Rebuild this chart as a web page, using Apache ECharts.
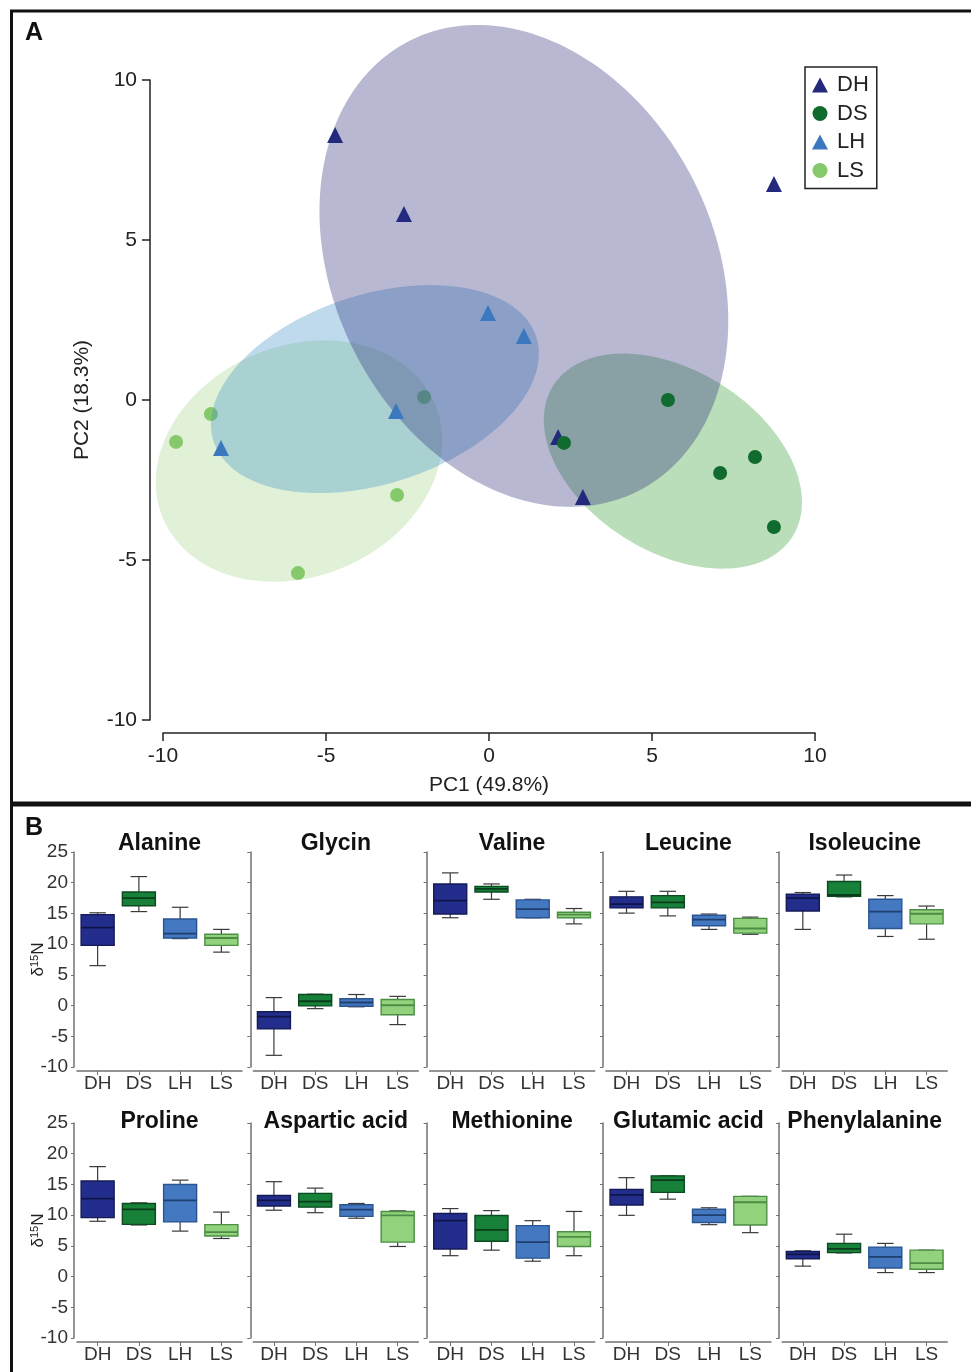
<!DOCTYPE html>
<html><head><meta charset="utf-8">
<script src="https://cdn.jsdelivr.net/npm/echarts@6/dist/echarts.min.js"></script>
<style>html,body{margin:0;padding:0;background:#fff}#c{width:971px;height:1372px}</style>
</head><body><div id="c"></div><script>
const FONT = "'Liberation Sans', Arial, sans-serif";
const groups = ['DH', 'DS', 'LH', 'LS'];

// ---- Panel A: PCA scores ----
const dhPC1 = [-4.72, -2.61, 8.74, 2.12, 2.88];
const dhPC2 = [8.28, 5.81, 6.75, -1.16, -3.03];
const dsPC1 = [5.49, 2.30, 7.09, 8.16, 8.74];
const dsPC2 = [0.00, -1.34, -2.28, -1.78, -3.97];
const lhPC1 = [-0.03, 1.07, -2.85, -8.22];
const lhPC2 = [2.72, 2.00, -0.34, -1.50];
const lsPC1 = [-1.99, -8.53, -9.60, -2.82, -5.86];
const lsPC2 = [0.09, -0.44, -1.31, -2.97, -5.41];
// confidence ellipses: [centre PC1, centre PC2, sd PC1, sd PC2, correlation]
const dhEllipse = [1.07, 4.19, 6.27, 7.53, -0.227];
const dsEllipse = [5.64, -1.91, 3.96, 3.36, -0.383];
const lhEllipse = [-3.50, 0.34, 5.03, 3.25, 0.34];
const lsEllipse = [-5.83, -1.91, 4.39, 3.77, 0.175];

// ---- Panel B: d15N box statistics [min, Q1, median, Q3, max] per group DH, DS, LH, LS ----
const aminoAcids = ['Alanine', 'Glycin', 'Valine', 'Leucine', 'Isoleucine',
  'Proline', 'Aspartic acid', 'Methionine', 'Glutamic acid', 'Phenylalanine'];
const alanine = [[6.5, 9.8, 12.7, 14.8, 15.1], [15.3, 16.25, 17.5, 18.5, 21.0], [10.9, 11.0, 11.7, 14.1, 16.0], [8.7, 9.8, 11.0, 11.6, 12.4]];
const glycin = [[-8.1, -3.8, -1.8, -1.0, 1.3], [-0.5, -0.05, 0.7, 1.8, 1.85], [-0.2, -0.1, 0.5, 1.1, 1.8], [-3.1, -1.5, 0.05, 1.0, 1.5]];
const valine = [[14.3, 14.9, 17.1, 19.8, 21.6], [17.3, 18.5, 19.0, 19.4, 19.8], [14.3, 14.3, 15.7, 17.2, 17.3], [13.3, 14.3, 14.8, 15.2, 15.8]];
const leucine = [[15.05, 15.9, 16.5, 17.7, 18.6], [14.6, 15.9, 16.8, 17.9, 18.6], [12.4, 13.0, 14.0, 14.7, 14.9], [11.6, 11.8, 12.55, 14.2, 14.4]];
const isoleucine = [[12.4, 15.4, 17.5, 18.15, 18.4], [17.7, 17.8, 18.0, 20.2, 21.25], [11.25, 12.55, 15.3, 17.3, 17.9], [10.8, 13.3, 14.95, 15.6, 16.2]];
const proline = [[9.0, 9.6, 12.7, 15.55, 17.9], [8.4, 8.5, 10.95, 11.9, 12.0], [7.4, 8.9, 12.4, 15.0, 15.7], [6.2, 6.6, 7.25, 8.45, 10.5]];
const asparticAcid = [[10.8, 11.5, 12.4, 13.2, 15.45], [10.4, 11.3, 12.2, 13.55, 14.4], [9.5, 9.8, 10.9, 11.7, 11.9], [4.9, 5.6, 9.95, 10.6, 10.7]];
const methionine = [[3.4, 4.5, 9.1, 10.26, 11.07], [4.3, 5.75, 7.6, 9.93, 10.74], [2.5, 3.0, 5.6, 8.3, 9.1], [3.4, 4.9, 6.45, 7.3, 10.6]];
const glutamicAcid = [[9.97, 11.65, 13.3, 14.2, 16.1], [12.6, 13.7, 15.7, 16.4, 16.4], [8.45, 8.8, 10.0, 10.95, 11.2], [7.15, 8.4, 12.1, 13.06, 13.06]];
const phenylalanine = [[1.7, 2.9, 3.6, 4.07, 4.2], [3.85, 3.9, 4.5, 5.4, 6.9], [0.65, 1.4, 3.2, 4.8, 5.4], [0.65, 1.2, 2.2, 4.3, 4.3]];
const boxStats = [alanine, glycin, valine, leucine, isoleucine, proline, asparticAcid, methionine, glutamicAcid, phenylalanine];

const pcTicks = [-10, -5, 0, 5, 10];
const d15NTicks = [-10, -5, 0, 5, 10, 15, 20, 25];

// ---- styles ----
const pointColor = { DH: '#232a7d', DS: '#0f6b2e', LH: '#3c78c0', LS: '#86c96a' };
const ellipseFill = {
  DH: 'rgba(40,40,120,0.33)', DS: 'rgba(40,150,40,0.32)',
  LH: 'rgba(70,150,200,0.35)', LS: 'rgba(130,200,100,0.25)'
};
const boxFill = ['#232e8c', '#178039', '#4479c2', '#92d27c'];
const boxEdge = ['#141a55', '#0c4a20', '#2a5590', '#4b8f45'];
const boxMedian = ['#0f1448', '#0b3d1b', '#1f3f70', '#4c8c45'];

const chart = echarts.init(document.getElementById('c'), null, { renderer: 'canvas' });

const grids = [{ left: 163, top: 80, width: 652, height: 640 }];
const xAxes = [{
  gridIndex: 0, type: 'value', min: pcTicks[0], max: pcTicks[pcTicks.length - 1], interval: 5,
  position: 'bottom', offset: 13,
  axisLine: { show: true, onZero: false, lineStyle: { color: '#222', width: 1.5 } },
  axisTick: { show: true, length: 8, lineStyle: { color: '#222', width: 1.5 } },
  axisLabel: { fontSize: 21, color: '#222', margin: 13, fontFamily: FONT },
  splitLine: { show: false },
  name: 'PC1 (49.8%)', nameLocation: 'middle', nameGap: 42, nameMoveOverlap: false,
  nameTextStyle: { fontSize: 21, color: '#222', fontFamily: FONT }
}];
const yAxes = [{
  gridIndex: 0, type: 'value', min: pcTicks[0], max: pcTicks[pcTicks.length - 1], interval: 5,
  position: 'left', offset: 13,
  axisLine: { show: true, onZero: false, lineStyle: { color: '#222', width: 1.5 } },
  axisTick: { show: true, length: 8, lineStyle: { color: '#222', width: 1.5 } },
  axisLabel: { fontSize: 21, color: '#222', margin: 13, fontFamily: FONT },
  splitLine: { show: false },
  name: 'PC2 (18.3%)', nameLocation: 'middle', nameGap: 57, nameRotate: 90, nameMoveOverlap: false,
  nameTextStyle: { fontSize: 21, color: '#222', fontFamily: FONT }
}];

function renderEllipse(fill) {
  return function (params, api) {
    const cx = api.value(0), cy = api.value(1), sx = api.value(2), sy = api.value(3), r = api.value(4);
    const pts = [];
    const n = 180;
    for (let k = 0; k < n; k++) {
      const t = 2 * Math.PI * k / n;
      pts.push(api.coord([cx + sx * Math.cos(t), cy + sy * (r * Math.cos(t) + Math.sqrt(1 - r * r) * Math.sin(t))]));
    }
    return { type: 'polygon', shape: { points: pts }, style: { fill: fill, stroke: null } };
  };
}
function ellipseSeries(name, params, fill, z) {
  return {
    name: name, type: 'custom', xAxisIndex: 0, yAxisIndex: 0, clip: false, silent: true,
    renderItem: renderEllipse(fill), encode: { x: 0, y: 1 }, data: [params], z: z
  };
}
function scatterSeries(name, xs, ys, symbol, size, z) {
  return {
    name: name, type: 'scatter', xAxisIndex: 0, yAxisIndex: 0, symbol: symbol, symbolSize: size,
    itemStyle: { color: pointColor[name], opacity: 1 }, z: z,
    data: xs.map((x, i) => [x, ys[i]])
  };
}

const series = [
  ellipseSeries('LS ellipse', lsEllipse, ellipseFill.LS, 1),
  scatterSeries('LS', lsPC1, lsPC2, 'circle', 14, 2),
  ellipseSeries('LH ellipse', lhEllipse, ellipseFill.LH, 3),
  ellipseSeries('DS ellipse', dsEllipse, ellipseFill.DS, 4),
  ellipseSeries('DH ellipse', dhEllipse, ellipseFill.DH, 5),
  scatterSeries('LH', lhPC1, lhPC2, 'triangle', 16, 6),
  scatterSeries('DH', dhPC1, dhPC2, 'triangle', 16, 7),
  scatterSeries('DS', dsPC1, dsPC2, 'circle', 14, 8)
];

function renderBox(params, api) {
  const ci = api.value(0);
  const v = [1, 2, 3, 4, 5].map(k => api.coord([ci, api.value(k)]));
  const band = api.size([1, 0])[0];
  const hw = band * 0.4, cw = band * 0.2;
  const x = v[0][0];
  const yLo = v[0][1], yQ1 = v[1][1], yMed = v[2][1], yQ3 = v[3][1], yHi = v[4][1];
  const wl = { stroke: '#3a3a3a', lineWidth: 1.2 };
  return {
    type: 'group', children: [
      { type: 'line', shape: { x1: x, y1: yHi, x2: x, y2: yQ3 }, style: wl },
      { type: 'line', shape: { x1: x, y1: yLo, x2: x, y2: yQ1 }, style: wl },
      { type: 'line', shape: { x1: x - cw, y1: yHi, x2: x + cw, y2: yHi }, style: wl },
      { type: 'line', shape: { x1: x - cw, y1: yLo, x2: x + cw, y2: yLo }, style: wl },
      { type: 'rect', shape: { x: x - hw, y: yQ3, width: 2 * hw, height: Math.max(yQ1 - yQ3, 1) },
        style: { fill: boxFill[ci], stroke: boxEdge[ci], lineWidth: 1.4 } },
      { type: 'line', shape: { x1: x - hw, y1: yMed, x2: x + hw, y2: yMed },
        style: { stroke: boxMedian[ci], lineWidth: 1.8 } }
    ]
  };
}

const graphics = [];
const colStep = 176.3;
boxStats.forEach((stats, i) => {
  const col = i % 5, row = Math.floor(i / 5);
  const gi = i + 1;
  const left = 77 + col * colStep;
  const top = row === 0 ? 852 : 1123;
  grids.push({ left: left, top: top, width: 165, height: 215 });
  xAxes.push({
    gridIndex: gi, type: 'category', data: groups, boundaryGap: true, position: 'bottom', offset: 4,
    axisLine: { show: true, onZero: false, lineStyle: { color: '#707070', width: 1.5 } },
    axisTick: { show: true, alignWithLabel: true, length: 4, lineStyle: { color: '#707070', width: 1 } },
    axisLabel: { fontSize: 19, color: '#333', margin: 3, fontFamily: FONT },
    splitLine: { show: false }
  });
  const yA = {
    gridIndex: gi, type: 'value', min: d15NTicks[0], max: d15NTicks[d15NTicks.length - 1], interval: 5,
    position: 'left', offset: 3,
    axisLine: { show: true, onZero: false, lineStyle: { color: '#707070', width: 1.5 } },
    axisTick: { show: true, length: 3, lineStyle: { color: '#707070', width: 1 } },
    axisLabel: { show: col === 0, fontSize: 19, color: '#333', margin: 6, fontFamily: FONT },
    splitLine: { show: false }
  };
  if (col === 0) {
    yA.name = 'δ{sup|15}N';
    yA.nameLocation = 'middle';
    yA.nameRotate = 90;
    yA.nameGap = 27;
    yA.nameMoveOverlap = false;
    yA.nameTextStyle = {
      fontSize: 17, color: '#222', fontFamily: FONT,
      rich: { sup: { fontSize: 11, color: '#222', fontFamily: FONT, padding: [0, 0, 7, 0] } }
    };
  }
  yAxes.push(yA);
  series.push({
    name: aminoAcids[i], type: 'custom', xAxisIndex: gi, yAxisIndex: gi,
    renderItem: renderBox, encode: { x: 0, y: [1, 2, 3, 4, 5] },
    data: stats.map((s, k) => [k].concat(s))
  });
  graphics.push({
    type: 'text', x: left + 82.5, y: (row === 0 ? 844 : 1122),
    style: { text: aminoAcids[i], fontSize: 23, fontWeight: 'bold', fontFamily: FONT, fill: '#111',
      align: 'center', verticalAlign: 'middle', textAlign: 'center', textVerticalAlign: 'middle' }
  });
});

// frame and panel letters
graphics.push(
  { type: 'line', shape: { x1: 10, y1: 11, x2: 971, y2: 11 }, style: { stroke: '#111', lineWidth: 3 } },
  { type: 'line', shape: { x1: 11.5, y1: 10, x2: 11.5, y2: 1372 }, style: { stroke: '#111', lineWidth: 3 } },
  { type: 'line', shape: { x1: 10, y1: 804, x2: 971, y2: 804 }, style: { stroke: '#111', lineWidth: 5 } },
  { type: 'text', x: 25, y: 33, style: { text: 'A', fontSize: 25, fontWeight: 'bold', fontFamily: FONT, fill: '#111',
    align: 'left', verticalAlign: 'middle', textAlign: 'left', textVerticalAlign: 'middle' } },
  { type: 'text', x: 25, y: 828, style: { text: 'B', fontSize: 25, fontWeight: 'bold', fontFamily: FONT, fill: '#111',
    align: 'left', verticalAlign: 'middle', textAlign: 'left', textVerticalAlign: 'middle' } }
);

chart.setOption({
  animation: false,
  backgroundColor: '#fff',
  textStyle: { fontFamily: FONT },
  grid: grids,
  xAxis: xAxes,
  yAxis: yAxes,
  legend: {
    show: true, orient: 'vertical', left: 805, top: 67,
    data: [
      { name: 'DH', icon: 'triangle' }, { name: 'DS', icon: 'circle' },
      { name: 'LH', icon: 'triangle' }, { name: 'LS', icon: 'circle' }
    ],
    itemWidth: 16, itemHeight: 15, itemGap: 6.5,
    padding: [7, 8, 7, 7],
    borderColor: '#222', borderWidth: 1.5, backgroundColor: '#fff',
    selectedMode: false,
    textStyle: { fontSize: 22, color: '#222', fontFamily: FONT, lineHeight: 22, padding: [0, 0, 0, 4] }
  },
  graphic: graphics,
  series: series
});
</script></body></html>
